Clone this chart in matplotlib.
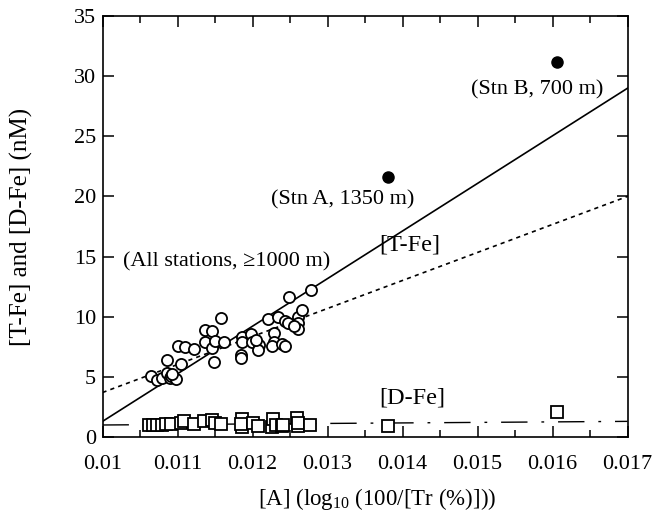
import matplotlib
matplotlib.use('Agg')
import matplotlib.pyplot as plt
import numpy as np

plt.rcParams['font.family'] = ['Liberation Serif', 'DejaVu Serif']
plt.rcParams['mathtext.fontset'] = 'custom'
plt.rcParams['mathtext.rm'] = 'Liberation Serif'

# T-Fe, all stations >= 1000 m (open circles)
tfe_x = [0.01064, 0.01073, 0.01079, 0.01086, 0.01090, 0.01091, 0.01098, 0.01093,
         0.01086, 0.01104, 0.01100, 0.01110, 0.01122, 0.01136, 0.01146, 0.01136,
         0.01146, 0.01149, 0.01150, 0.01162, 0.01158, 0.01186, 0.01186, 0.01185,
         0.01185, 0.01198, 0.01199, 0.01208, 0.01207, 0.01220, 0.01229, 0.01228,
         0.01226, 0.01234, 0.01239, 0.01243, 0.01243, 0.01248, 0.01260, 0.01260,
         0.01260, 0.01266, 0.01247, 0.01278, 0.01205, 0.01255]
tfe_y = [5.05, 4.78, 4.92, 5.33, 4.92, 5.11, 4.85, 5.2,
         6.37, 6.07, 7.55, 7.47, 7.31, 8.87, 8.82, 7.94,
         7.39, 6.21, 8.02, 7.94, 9.89, 8.35, 7.86, 6.84,
         6.57, 8.57, 7.94, 7.66, 7.25, 9.78, 8.68, 7.94,
         7.53, 9.95, 7.75, 7.53, 9.67, 11.65, 10.0, 9.51,
         8.96, 10.6, 9.45, 12.25, 8.1, 9.2]

# D-Fe (open squares)
dfe_x = [0.010624, 0.010677, 0.010731, 0.010789, 0.010847, 0.010913, 0.011047,
         0.011087, 0.011224, 0.011357, 0.011456, 0.0115, 0.011576, 0.011856,
         0.01186, 0.01185, 0.012011, 0.012077, 0.012256, 0.012277, 0.01231,
         0.012389, 0.012411, 0.012589, 0.01261, 0.0126, 0.012767, 0.01381, 0.01606]
dfe_y = [1.0, 1.0, 1.0, 1.0, 1.05, 1.1, 1.2,
         1.3, 1.1, 1.3, 1.4, 1.2, 1.1, 1.5,
         0.8, 1.1, 1.2, 0.9, 0.8, 1.5, 1.0,
         0.9, 1.0, 1.6, 0.9, 1.2, 1.0, 0.9, 2.1]

# shallow stations (filled circles)
stn_x = [0.013811, 0.01606]
stn_y = [21.6, 31.2]

# regression lines: slope, intercept
solid_fit = (3957.0, -38.27)
dotted_fit = (2329.0, -19.59)
dfe_fit = (43.0, 0.57)

fig = plt.figure(figsize=(6.53, 5.22), dpi=100)
ax = fig.add_axes([0.157, 0.1628, 0.804, 0.8065])

xl = np.array([0.01, 0.017])
ax.plot(xl, solid_fit[0] * xl + solid_fit[1], color='black', lw=1.2, zorder=2)
ax.plot(xl, dotted_fit[0] * xl + dotted_fit[1], color='black', lw=1.2,
        dashes=(2.5, 2.5), zorder=2)
ax.plot(xl, dfe_fit[0] * xl + dfe_fit[1], color='black', lw=1.0,
        dashes=(19, 10, 2, 10), zorder=2)

ax.plot(tfe_x, tfe_y, 'o', ms=8, mfc='white', mec='black', mew=1.3, zorder=3)
ax.plot(dfe_x, dfe_y, 's', ms=8.3, mfc='white', mec='black', mew=1.3, zorder=3)
ax.plot(stn_x, stn_y, 'o', ms=8, color='black', zorder=3)

fs = 16
ax.text(0.01579, 28.9, '(Stn B, 700 m)', ha='center', va='center', fontsize=fs)
ax.text(0.013207, 19.7, '(Stn A, 1350 m)', ha='center', va='center', fontsize=fs)
ax.text(0.0141, 16.0, '[T-Fe]', ha='center', va='center', fontsize=17.5)
ax.text(0.01166, 14.55, '(All stations, \u22651000 m)', ha='center', va='center', fontsize=fs)
ax.text(0.01413, 3.25, '[D-Fe]', ha='center', va='center', fontsize=17.5)

ax.set_xlim(0.01, 0.017)
ax.set_ylim(0, 35)
ax.set_xticks(np.arange(0.010, 0.0171, 0.001))
ax.set_xticklabels(['0.01', '0.011', '0.012', '0.013', '0.014', '0.015', '0.016', '0.017'])
ax.set_xticks(np.arange(0.0105, 0.017, 0.001), minor=True)
ax.set_yticks(np.arange(0, 36, 5))
ax.tick_params(which='both', direction='in', top=True, right=True,
               labelsize=16, width=1.1)
ax.tick_params(which='major', length=8)
ax.tick_params(which='minor', length=5)
ax.tick_params(axis='x', which='major', pad=13)
ax.tick_params(axis='y', which='major', pad=4.5)
for s in ax.spines.values():
    s.set_linewidth(1.2)

ax.set_xlabel('[A] (log$_{10}$ (100/[Tr (%)]))', fontsize=16.5)
ax.set_ylabel('[T-Fe] and [D-Fe] (nM)', fontsize=18)
ax.xaxis.set_label_coords(0.523, -0.117)
ax.yaxis.set_label_coords(-0.132, 0.5)

fig.savefig('out.png', dpi=100)
